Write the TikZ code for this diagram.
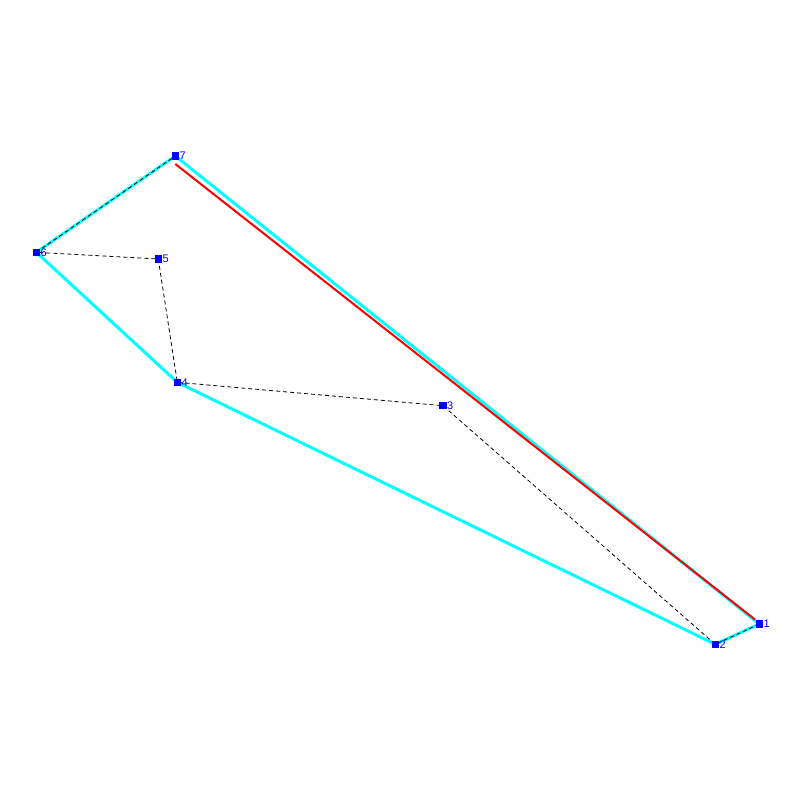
\documentclass[tikz,border=0pt]{standalone}
\usepackage{fontspec}
\setmainfont{Liberation Sans}
\definecolor{aqua}{RGB}{0,255,255}
\definecolor{ptblue}{RGB}{0,0,255}
\begin{document}
\begin{tikzpicture}[x=1pt,y=-1pt,
  pt/.style={fill=ptblue,inner sep=0pt,minimum size=7.5pt,draw=none},
  lab/.style={text=ptblue,font=\fontsize{11}{11}\selectfont,inner sep=0pt,anchor=west},
  hull/.style={draw=aqua,line width=3pt},
  redl/.style={draw=red,line width=2pt},
  dashline/.style={draw=black,line width=0.8pt,dash pattern=on 4pt off 3pt}]
\useasboundingbox (0,0) rectangle (800,800);
\coordinate (p1) at (759.3,624);
\coordinate (p2) at (715.3,644.3);
\coordinate (p3) at (443,405.7);
\coordinate (p4) at (177.3,382.3);
\coordinate (p5) at (158.3,259);
\coordinate (p6) at (36.3,252.3);
\coordinate (p7) at (175.3,156);
\coordinate (r1) at (175.3,164);
\coordinate (r2) at (755,619.5);
\draw[hull] (p1) -- (p2) -- (p4) -- (p6) -- (p7) -- cycle;
\draw[redl] (r1) -- (r2);
\draw[dashline] (p1) -- (p2) -- (p3) -- (p4) -- (p5) -- (p6) -- (p7);
\foreach \i in {1,...,7} {
  \node[pt] (n\i) at (p\i) {};
  \node[lab] (l\i) at ([xshift=4pt]p\i) {\i};
}
\end{tikzpicture}
\end{document}
